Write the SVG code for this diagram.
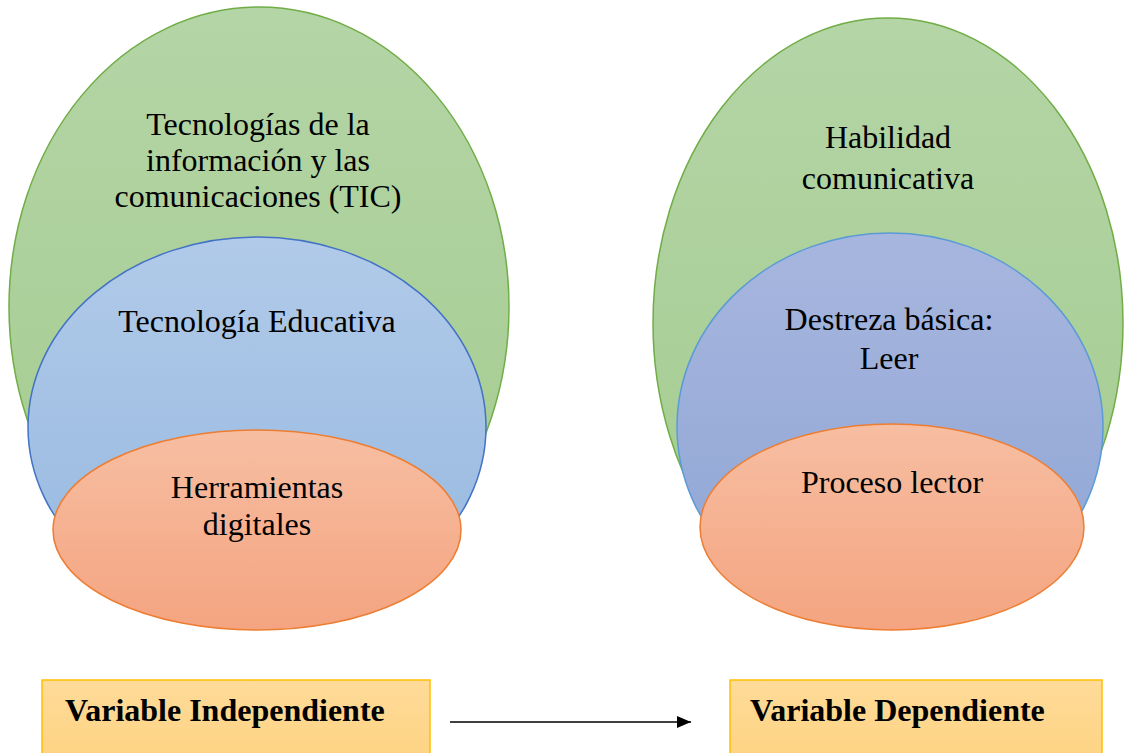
<svg xmlns="http://www.w3.org/2000/svg" width="1124" height="753" viewBox="0 0 1124 753">
  <defs>
    <linearGradient id="gGreen" x1="0" y1="0" x2="0" y2="1">
      <stop offset="0" stop-color="#b4d5a6"/>
      <stop offset="1" stop-color="#a3cb8e"/>
    </linearGradient>
    <linearGradient id="gBlueL" x1="0" y1="0" x2="0" y2="1">
      <stop offset="0" stop-color="#b1cae9"/>
      <stop offset="1" stop-color="#95b8df"/>
    </linearGradient>
    <linearGradient id="gBlueR" x1="0" y1="0" x2="0" y2="1">
      <stop offset="0" stop-color="#a7b6de"/>
      <stop offset="1" stop-color="#8ea5d5"/>
    </linearGradient>
    <linearGradient id="gOrange" x1="0" y1="0" x2="0" y2="1">
      <stop offset="0" stop-color="#f7bea2"/>
      <stop offset="1" stop-color="#f4a480"/>
    </linearGradient>
    <linearGradient id="gBox" x1="0" y1="0" x2="0" y2="1">
      <stop offset="0" stop-color="#fedb99"/>
      <stop offset="1" stop-color="#fed383"/>
    </linearGradient>
    <marker id="arrow" viewBox="0 0 14 12" refX="14" refY="6" markerWidth="14" markerHeight="12" markerUnits="userSpaceOnUse" orient="auto">
      <path d="M0,0 L14,6 L0,12 z" fill="#000"/>
    </marker>
  </defs>
  <style>
    .lbl { font-family: "Liberation Serif", "Times New Roman", serif; font-size: 32px; fill: #000; text-anchor: middle; }
    .box { font-family: "Liberation Serif", "Times New Roman", serif; font-size: 32px; font-weight: bold; fill: #000; }
    .green { fill: url(#gGreen); stroke: #70ad47; stroke-width: 1.5; }
    .blueL { fill: url(#gBlueL); stroke: #4472c4; stroke-width: 1.5; }
    .blueR { fill: url(#gBlueR); stroke: #5b9bd5; stroke-width: 1.5; }
    .orange { fill: url(#gOrange); stroke: #ed7d31; stroke-width: 1.5; }
    .vbox { fill: url(#gBox); stroke: #ffc000; stroke-width: 1.5; }
  </style>

  <g id="tic">
    <ellipse class="green" cx="259" cy="307" rx="250" ry="300"/>
    <text class="lbl" x="258" y="135">Tecnologías de la</text>
    <text class="lbl" x="258" y="171">información y las</text>
    <text class="lbl" x="258" y="207">comunicaciones (TIC)</text>
  </g>
  <g id="tec-educativa">
    <ellipse class="blueL" cx="257" cy="427" rx="229" ry="190"/>
    <text class="lbl" x="257" y="332">Tecnología Educativa</text>
  </g>
  <g id="herramientas">
    <ellipse class="orange" cx="257" cy="530" rx="204" ry="100"/>
    <text class="lbl" x="257" y="498">Herramientas</text>
    <text class="lbl" x="257" y="535">digitales</text>
  </g>

  <g id="habilidad">
    <ellipse class="green" cx="888" cy="323" rx="235" ry="305"/>
    <text class="lbl" x="888" y="148">Habilidad</text>
    <text class="lbl" x="888" y="189">comunicativa</text>
  </g>
  <g id="destreza">
    <ellipse class="blueR" cx="890" cy="427" rx="213" ry="194"/>
    <text class="lbl" x="889" y="330">Destreza básica:</text>
    <text class="lbl" x="889" y="369">Leer</text>
  </g>
  <g id="proceso">
    <ellipse class="orange" cx="892" cy="527" rx="192" ry="103"/>
    <text class="lbl" x="892" y="493">Proceso lector</text>
  </g>

  <g id="var-indep">
    <rect class="vbox" x="42" y="680" width="388" height="80"/>
    <text class="box" x="65" y="721">Variable Independiente</text>
  </g>
  <g id="var-dep">
    <rect class="vbox" x="730" y="680" width="372" height="80"/>
    <text class="box" x="750" y="721">Variable Dependiente</text>
  </g>

  <g id="connectors">
    <line x1="450" y1="722" x2="691" y2="722" stroke="#000" stroke-width="1.5" marker-end="url(#arrow)"/>
  </g>
</svg>
